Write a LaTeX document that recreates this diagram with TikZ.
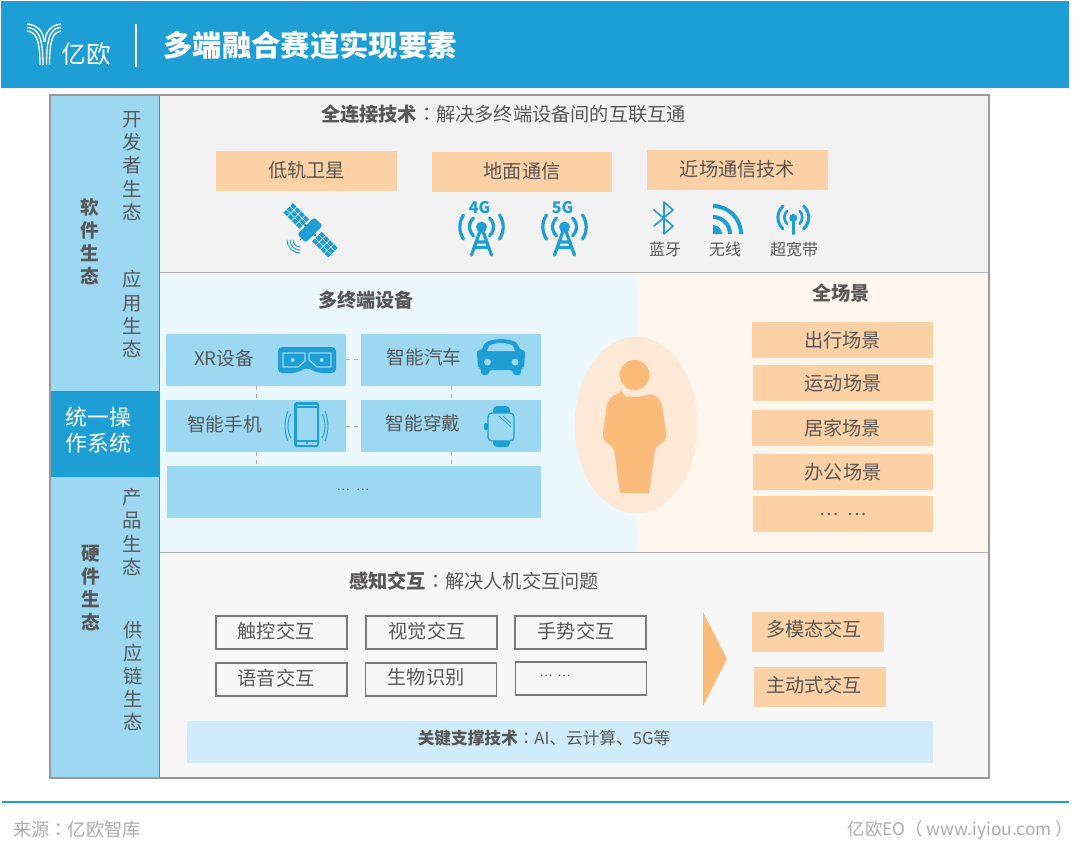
\documentclass[tikz,border=0pt]{standalone}
\usepackage{fontspec}
\setmainfont{Noto Sans CJK SC}
\newfontfamily\tcfont{Noto Sans CJK TC}
\usetikzlibrary{shapes.geometric}
\definecolor{headblue}{HTML}{1D9ED4}
\definecolor{sideblue}{HTML}{9DD8F3}
\definecolor{peach}{HTML}{FBD1A5}
\definecolor{darkpeach}{HTML}{FBBB7A}
\definecolor{palepeach}{HTML}{FDE9D6}
\definecolor{txtgray}{HTML}{595757}
\tikzset{
  px/.style={x=0.75pt,y=-0.75pt},
  label/.style={text=txtgray,font=\fontsize{14.4}{16}\selectfont,inner sep=0pt},
  boldlabel/.style={label,align=center,font=\bfseries\fontsize{14}{17.2}\selectfont},
  vlabel/.style={label,align=center,font=\fontsize{14.5}{17.4}\selectfont},
  smalllabel/.style={label,font=\fontsize{12}{14}\selectfont},
  devlabel/.style={label,font=\fontsize{14}{16}\selectfont},
  orangebox/.style={fill=peach,draw=none,minimum width=135.5pt,minimum height=30pt,inner sep=0pt,text=txtgray,font=\fontsize{14.4}{16}\selectfont},
  bluebox/.style={fill=sideblue,draw=none,inner sep=0pt,minimum width=135pt,minimum height=39pt},
  linebox/.style={draw=txtgray!80,line width=1.2pt,minimum width=98.5pt,minimum height=25pt,inner sep=0pt},
  link/.style={draw=gray!60,dashed,line width=0.5pt},
  icon/.style={headblue,line width=1.6pt,line cap=round},
  logoline/.style={white,line width=1pt}
}
\newcommand{\tower}[3]{
  \begin{scope}[shift={(#1,#2)}]
    \draw[icon,line width=2.4pt] (0,0) -- (-10,28) (0,0) -- (10,28) (-5.5,15) -- (5.5,15) (-7.5,20.5) -- (7.5,20.5);
    \fill[headblue] (0,0) circle (5.4);
    \draw[icon,line width=2.4pt] (-8,-9) arc (228:132:12) (8,-9) arc (-48:48:12);
    \draw[icon,line width=2.4pt] (-18,-12) arc (214:146:21.5) (18,-12) arc (-34:34:21.5);
    \node[text=headblue,font=\bfseries\fontsize{12}{12}\selectfont,inner sep=0pt] at (-2,-19.5) {#3};
  \end{scope}
}
\newcommand{\colonmark}{{\tcfont ：}}
\begin{document}
\begin{tikzpicture}[px]
  \useasboundingbox (0,0) rectangle (1080,861);
  \fill[white] (0,0) rectangle (1080,861);
  \fill[headblue] (1,1) rectangle (1069,88);
  \draw[white,line width=1.2pt] (136,24) -- (136,67);
  \draw[logoline] (27,24) .. controls (38,25) and (44,32) .. (44,42);
  \draw[logoline] (27,27.5) .. controls (37,28) and (43,34) .. (43,65);
  \draw[logoline] (27,31) .. controls (35,32) and (40,37) .. (40,65);
  \draw[logoline] (61,24) .. controls (51,25) and (45,32) .. (45,42);
  \draw[logoline] (61,27.5) .. controls (52,28) and (46.5,34) .. (46.5,65);
  \draw[logoline] (61,31) .. controls (54,32) and (49.5,37) .. (49.5,65);
  \node[text=white,font=\fontsize{18.5}{18}\selectfont,inner sep=0pt] (logotxt) at (86,54) {亿欧};
  \node[text=white,font=\bfseries\fontsize{22}{24}\selectfont,inner sep=0pt] (maintitle) at (310,45) {多端融合赛道实现要素};

  \fill[sideblue] (50,95) rectangle (159,778);
  \fill[black!5] (159,95) rectangle (989,272);
  \fill[blue!30!cyan!8] (159,272) rectangle (637,552);
  \fill[orange!7] (637,272) rectangle (989,552);
  \fill[black!3] (159,552) rectangle (989,778);
  \draw[gray!60,line width=0.6pt] (159,272) -- (989,272) (159,552) -- (989,552);
  \draw[headblue,line width=0.6pt] (159,95) -- (159,778);
  \fill[headblue] (50,391) rectangle (159,477);
  \draw[gray!80,line width=1.4pt] (50,95) rectangle (989,778);

  \node[boldlabel] (softeco) at (90,242) {软\\件\\生\\态};
  \node[boldlabel] (hardeco) at (91,588) {硬\\件\\生\\态};
  \node[vlabel] (deveco) at (132,166) {开\\发\\者\\生\\态};
  \node[vlabel] (appeco) at (132,314) {应\\用\\生\\态};
  \node[vlabel] (prodeco) at (132,532) {产\\品\\生\\态};
  \node[vlabel] (supeco) at (133,676) {供\\应\\链\\生\\态};
  \node[text=white,align=center,inner sep=0pt,font=\fontsize{16.4}{19.5}\selectfont] (os) at (98.5,430) {统一操\\作系统};

  \node[label] (alltitle) at (503.5,114) {\textbf{全连接技术}\colonmark 解决多终端设备间的互联互通};
  \node[orangebox] (leo) at (306.5,170.5) {低轨卫星};
  \node[orangebox] (ground) at (522,171.5) {地面通信};
  \node[orangebox] (near) at (737.5,169.5) {近场通信技术};

  \begin{scope}[shift={(310,230)},rotate=-45]
    \fill[headblue,rounded corners=2pt] (-6,-12) rectangle (6,12);
    \fill[headblue] (-8,-1) rectangle (8,1);
    \foreach \i in {0,1,2,3}{
      \foreach \j in {0,1,2}{
        \fill[headblue] (-31+\i*5.9,-7+\j*4.8) rectangle ++(5,3.9);
        \fill[headblue] (9.5+\i*5.9,-7+\j*4.8) rectangle ++(5,3.9);
      }
    }
  \end{scope}
  \draw[icon,line width=0.7pt] (304,236) -- (300,240);
  \draw[icon,line width=0.7pt] (293,240) arc (180:90:7);
  \draw[icon,line width=0.7pt] (290,240) arc (180:90:10);
  \draw[icon,line width=0.7pt] (287,240) arc (180:90:13);
  \tower{481.5}{227}{4G}
  \tower{564.5}{227}{5G}

  \draw[icon,line join=round,line width=1.2pt] (654,210) -- (673,226) -- (664,234) -- (664,202) -- (673,210) -- (654,226);
  \draw[headblue,line width=3pt] (713,217) arc (270:360:17);
  \draw[headblue,line width=3pt] (713,206) arc (270:360:28);
  \fill[headblue] (713,234) -- (713,225) arc (270:360:9) -- cycle;
  \fill[headblue] (793.3,218) circle (4);
  \draw[icon,line width=1.8pt] (793.3,219) -- (793.3,234);
  \draw[icon,line width=2pt] (787,211) arc (225:135:9) (799.6,211) arc (-45:45:9);
  \draw[icon,line width=2.3pt] (783,206) arc (228:132:15.5) (803.6,206) arc (-48:48:15.5);
  \node[smalllabel] (bt) at (665,249) {蓝牙};
  \node[smalllabel] (wifi) at (725,249) {无线};
  \node[smalllabel] (uwb) at (794,249) {超宽带};

  \node[label,font=\bfseries\fontsize{14.4}{16}\selectfont] (devtitle) at (366,300) {多终端设备};
  \node[label,font=\bfseries\fontsize{14.4}{16}\selectfont] (scenetitle) at (841,293) {全场景};

  \node[bluebox] (xr) at (256,359.5) {};
  \node[bluebox] (car) at (451,359.5) {};
  \node[bluebox] (phone) at (256,426) {};
  \node[bluebox] (watch) at (451,426) {};
  \node[bluebox,minimum width=281pt] (more) at (354,491.5) {};
  \draw[link] (xr) -- (car);
  \draw[link] (phone) -- (watch);
  \draw[link] (xr.south) -- (phone.north);
  \draw[link] (car.south) -- (watch.north);
  \draw[link] (phone.south) -- (phone.south |- more.north);
  \draw[link] (watch.south) -- (watch.south |- more.north);
  \node[devlabel] (xrtxt) at (224,358) {XR设备};
  \node[devlabel] (cartxt) at (424,357) {智能汽车};
  \node[devlabel] (phonetxt) at (224.5,424) {智能手机};
  \node[devlabel] (watchtxt) at (423,423) {智能穿戴};
  \node[label,font=\fontsize{9}{12}\selectfont] (moretxt) at (353,490) {…\hspace{5pt}…};

  \fill[headblue,rounded corners=3pt] (278,347) -- (336,347) -- (336,373) -- (318,373) -- (307,367.5) -- (296,373) -- (278,373) -- cycle;
  \draw[sideblue,line width=0.9pt,line join=round] (283,353) -- (305,353) -- (305,361) -- (298,367) -- (283,367) -- cycle;
  \draw[sideblue,line width=0.9pt,line join=round] (309,353) -- (331,353) -- (331,367) -- (317,367) -- (309,360) -- cycle;
  \fill[sideblue] (292.7,360) circle (2) (321.7,360) circle (2);
  \fill[headblue,rounded corners=2pt] (477,350) -- (482,350) -- (484,344) .. controls (492,338) and (510,338) .. (518,344) -- (520,350) -- (525,350) -- (525,354) -- (524,368) -- (521,368) -- (521,375) -- (513,375) -- (513,370) -- (489,370) -- (489,375) -- (481,375) -- (481,368) -- (478,368) -- (477,354) -- cycle;
  \fill[sideblue] (487,351) -- (489,346) .. controls (495,342) and (507,342) .. (513,346) -- (515,351) -- cycle;
  \fill[sideblue] (487.5,362) circle (3.5) (515,362) circle (3.5);
  \fill[headblue,rounded corners=2pt] (294,402) rectangle (319,447);
  \fill[sideblue] (297,408) rectangle (316.5,439.5);
  \fill[sideblue] (297,441.5) rectangle (316.5,445);
  \fill[headblue] (307,443) circle (1.2);
  \draw[sideblue,line width=0.4pt] (297,405) -- (316.5,405);
  \draw[headblue,line width=0.7pt] (291,414) .. controls (287,421) and (287,431) .. (291,438);
  \draw[headblue,line width=0.7pt] (322,414) .. controls (326,421) and (326,431) .. (322,438);
  \draw[headblue,line width=0.7pt] (288,411) .. controls (284,421) and (284,431) .. (288,441);
  \draw[headblue,line width=0.7pt] (325,411) .. controls (329,421) and (329,431) .. (325,441);
  \fill[headblue,rounded corners=3pt] (493,406) rectangle (510,416);
  \fill[headblue,rounded corners=3pt] (493,438) rectangle (510,447);
  \filldraw[fill=sideblue,draw=headblue,line width=0.9pt,rounded corners=3pt] (488,413) rectangle (514,441);
  \fill[headblue,rounded corners=1pt] (484,423) rectangle (488,430);
  \draw[headblue,line width=0.5pt] (499,416) -- (511,427) (503,416) -- (511,423.5);

  \node[ellipse,fill=palepeach,minimum width=92pt,minimum height=132.5pt,inner sep=0pt] (userhalo) at (636,425) {};
  \fill[darkpeach] (634.5,375) circle (15);
  \fill[darkpeach,rounded corners=4pt] (621,394) .. controls (628,397) and (641,397) .. (647,394) .. controls (658,395) and (662,404) .. (663,412) -- (667,439) -- (655,448) -- (650,487) .. controls (649,491) and (647,493) .. (645,493) -- (624,493) .. controls (622,493) and (620,491) .. (619,487) -- (614,448) -- (602,439) -- (606,412) .. controls (607,402) and (612,395) .. (621,394) -- cycle;

  \node[orangebox,minimum height=27pt] (travel) at (842.5,340) {出行场景};
  \node[orangebox,minimum height=27pt] (sport) at (843,383) {运动场景};
  \node[orangebox,minimum height=27pt] (home) at (842.5,428) {居家场景};
  \node[orangebox,minimum height=27pt] (office) at (843,472) {办公场景};
  \node[orangebox,minimum height=27pt,font=\fontsize{13.5}{16}\selectfont] (etc) at (843,514) {…\hspace{7pt}…};

  \node[label] (sensetitle) at (474,581) {\textbf{感知交互}\colonmark 解决人机交互问题};
  \node[linebox] (touch) at (281.5,632.5) {};
  \node[linebox] (vision) at (431.5,632.5) {};
  \node[linebox] (gesture) at (580.5,632.5) {};
  \node[linebox] (voice) at (281.5,679.5) {};
  \node[linebox] (bio) at (431,679.5) {};
  \node[linebox] (dots) at (581,678.5) {};
  \node[label] (touchtxt) at (276,631) {触控交互};
  \node[label] (visiontxt) at (427,631) {视觉交互};
  \node[label] (gesturetxt) at (576,631) {手势交互};
  \node[label] (voicetxt) at (276,678) {语音交互};
  \node[label] (biotxt) at (426,677) {生物识别};
  \node[label,font=\fontsize{9}{11}\selectfont] (dotstxt) at (555,676) {…\hspace{4pt}…};
  \fill[darkpeach] (703,612) -- (727,659) -- (703,706) -- cycle;
  \node[orangebox,minimum width=99pt,minimum height=30pt] (multi) at (818,632) {};
  \node[orangebox,minimum width=99pt,minimum height=30pt] (active) at (819.5,687) {};
  \node[label] (multitxt) at (814,629) {多模态交互};
  \node[label] (activetxt) at (814,685) {主动式交互};
  \fill[sideblue!50] (187,721) rectangle (933,763);
  \node[label,font=\fontsize{12.5}{14}\selectfont] (keytech) at (544,738) {\textbf{关键支撑技术}\colonmark AI、云计算、5G等};

  \draw[headblue,line width=2pt] (2,802) -- (1069,802);
  \node[text=gray!65,font=\fontsize{13.7}{15}\selectfont,inner sep=0pt] (source) at (77,830) {来源\colonmark 亿欧智库};
  \node[text=gray!65,font=\fontsize{13}{15}\selectfont,inner sep=0pt] (site) at (960.5,830) {亿欧EO（ www.iyiou.com ）};
\end{tikzpicture}
\end{document}
